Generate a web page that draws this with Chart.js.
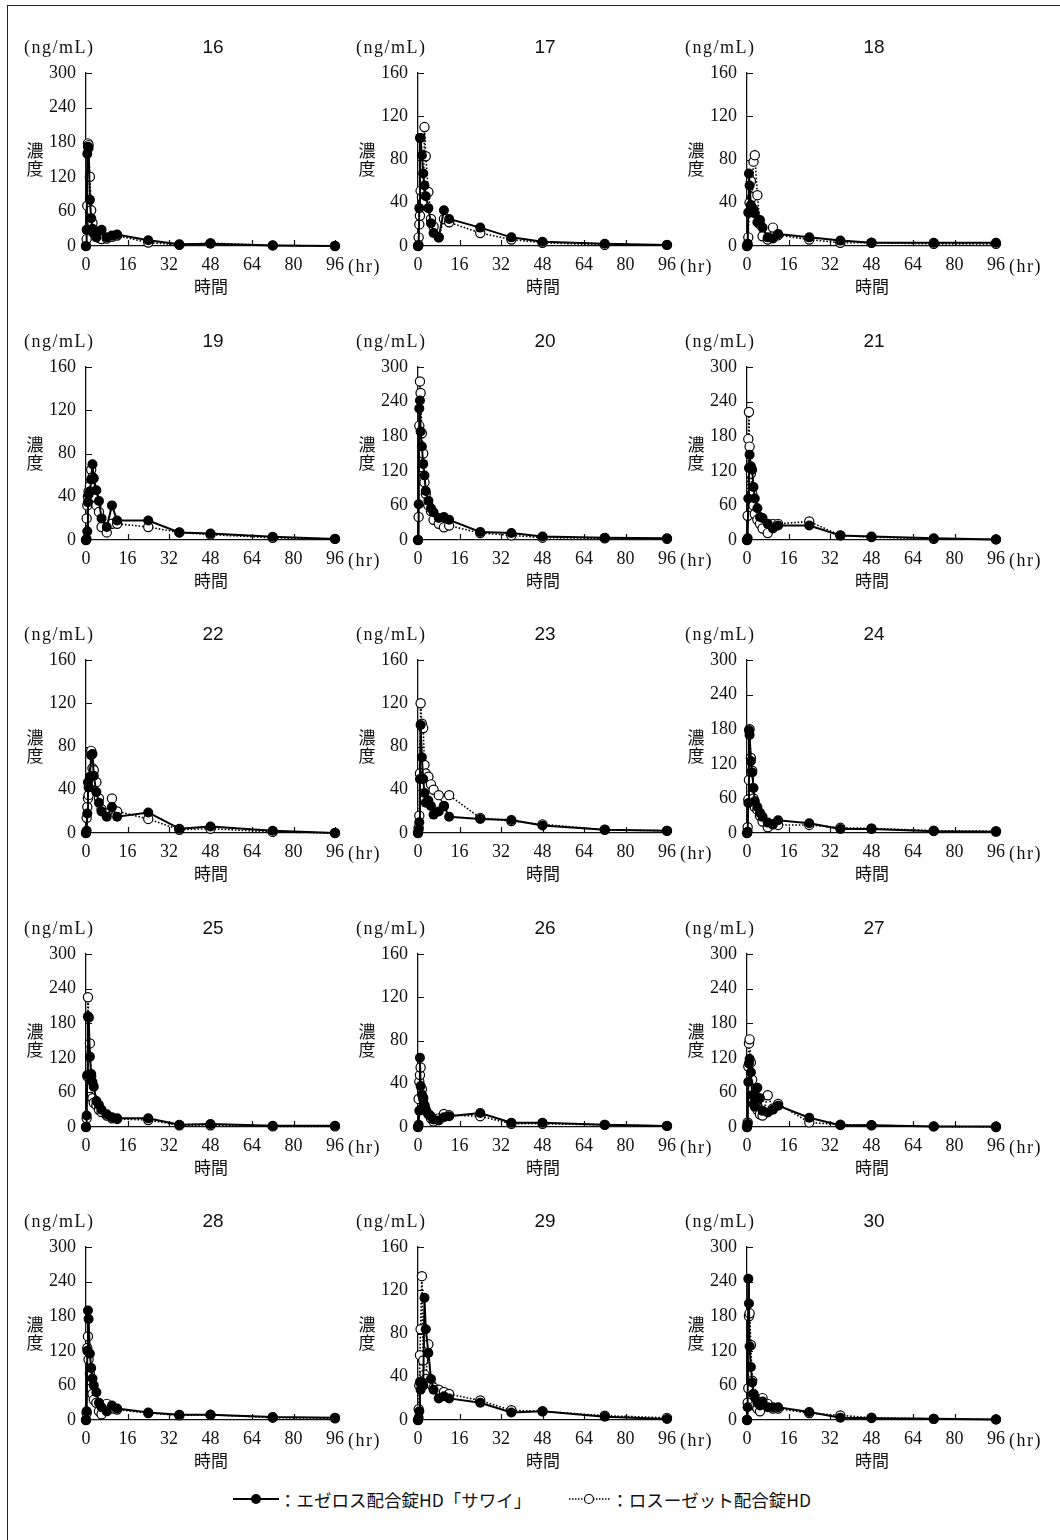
<!DOCTYPE html>
<html lang="ja">
<head>
<meta charset="utf-8">
<title>血漿中濃度推移（被験者16〜30）</title>
<script src="https://cdn.jsdelivr.net/npm/chart.js@4.4.1/dist/chart.umd.min.js"></script>
<style>
  html, body { margin: 0; padding: 0; background: #fff; }
  #page { position: relative; width: 1060px; height: 1540px; background: #fff; overflow: hidden; }
  #frameTop { position: absolute; left: 7px; top: 5px; width: 1053px; height: 0; border-top: 1.3px solid #222; }
  #frameLeft { position: absolute; left: 7px; top: 5px; width: 0; height: 1535px; border-left: 1.3px solid #222; }
  .panel { position: absolute; }
  .panel canvas { position: absolute; left: 0; top: 0; }
  .txt { position: absolute; color: #111; white-space: nowrap; transform: translate(-50%, -50%); }
  .unit { font: 18px "Liberation Serif", "Times New Roman", serif; letter-spacing: 1.5px; transform: translate(0, -50%); }
  .num { font: 19px "Liberation Sans", Arial, sans-serif; }
  .ylab { font: 17px "Noto Sans CJK JP", sans-serif; line-height: 18px; text-align: center; }
  .xlab { font: 17px "Noto Sans CJK JP", sans-serif; }
  .hr { font: 18px "Liberation Serif", "Times New Roman", serif; letter-spacing: 1.5px; transform: translate(0, -50%); }
  #legend { position: absolute; left: 233px; top: 1488px; height: 22px; display: flex; align-items: center;
            font: 17.5px "Noto Sans CJK JP", sans-serif; color: #111; white-space: nowrap; }
</style>
</head>
<body>
<div id="page">
  <div id="frameTop"></div>
  <div id="frameLeft"></div>
  <div id="legend">
    <svg width="46" height="22"><line x1="0" y1="11" x2="46" y2="11" stroke="#000" stroke-width="2.2"/><circle cx="23" cy="11" r="5" fill="#000"/></svg>
    <span>：エゼロス配合錠HD「サワイ」</span>
    <span style="display:inline-block;width:38px"></span>
    <svg width="42" height="22"><line x1="0" y1="11" x2="42" y2="11" stroke="#000" stroke-width="1.5" stroke-dasharray="1.5 1.5"/><circle cx="20" cy="11" r="4.5" fill="#fff" stroke="#000" stroke-width="1.2"/></svg>
    <span>：ロスーゼット配合錠HD</span>
  </div>
</div>

<script>
// Sampling times (hr)
const times = [0, 0.25, 0.5, 0.75, 1, 1.5, 2, 2.5, 3, 4, 5, 6, 8, 10, 12, 24, 36, 48, 72, 96];

// Tick values
const xTicks = [0, 16, 32, 48, 64, 80, 96];
const yTicks300 = [0, 60, 120, 180, 240, 300];
const yTicks160 = [0, 40, 80, 120, 160];

// Subject numbers and their y-axis range
const subjects = ['16', '17', '18', '19', '20', '21', '22', '23', '24', '25', '26', '27', '28', '29', '30'];
const yRanges = [300, 160, 160, 160, 300, 300, 160, 160, 300, 300, 160, 300, 300, 160, 300];

// Plasma concentration (ng/mL): エゼロス配合錠HD「サワイ」
const sawai16 = [0, 28, 160, 172, 170, 80, 48, 30, 22, 15, 25, 28, 15, 18, 20, 10, 3, 4, 1, 0];
const sawai17 = [0, 1, 35, 100, 100, 84, 67, 56, 46, 35, 21, 12, 8, 33, 25, 17, 8, 4, 2, 1];
const sawai18 = [0, 2, 31, 67, 56, 38, 35, 34, 30, 22, 24, 17, 8, 7, 11, 8, 5, 3, 3, 3];
const sawai19 = [0, 1, 8, 35, 42, 45, 56, 70, 57, 46, 36, 20, 12, 32, 18, 18, 7, 6, 3, 1];
const sawai20 = [0, 62, 228, 242, 188, 162, 132, 112, 85, 68, 55, 48, 38, 40, 35, 14, 12, 6, 4, 3];
const sawai21 = [0, 3, 72, 125, 148, 128, 122, 92, 72, 55, 40, 38, 28, 20, 25, 25, 8, 6, 3, 1];
const sawai22 = [0, 2, 18, 47, 42, 52, 72, 73, 53, 38, 28, 20, 15, 24, 15, 19, 4, 6, 2, 0];
const sawai23 = [0, 3, 10, 50, 100, 70, 50, 37, 28, 30, 25, 17, 20, 25, 15, 13, 12, 7, 3, 2];
const sawai24 = [0, 2, 52, 178, 170, 125, 105, 78, 55, 45, 35, 28, 18, 15, 22, 17, 7, 7, 3, 2];
const sawai25 = [0, 20, 90, 192, 190, 122, 92, 78, 70, 45, 38, 30, 22, 17, 15, 15, 4, 5, 2, 2];
const sawai26 = [0, 2, 15, 64, 38, 30, 26, 20, 15, 12, 10, 7, 6, 9, 10, 13, 4, 4, 2, 1];
const sawai27 = [0, 5, 78, 110, 118, 95, 55, 40, 35, 68, 50, 28, 25, 30, 37, 16, 3, 3, 1, 1];
const sawai28 = [0, 15, 120, 190, 175, 115, 90, 72, 60, 48, 30, 22, 15, 25, 20, 13, 9, 9, 5, 4];
const sawai29 = [0, 2, 8, 35, 28, 35, 32, 113, 84, 62, 38, 28, 20, 22, 20, 16, 7, 8, 3, 1];
const sawai30 = [0, 22, 245, 202, 128, 92, 65, 45, 40, 30, 25, 32, 22, 22, 22, 14, 4, 3, 2, 1];

// Plasma concentration (ng/mL): ロスーゼット配合錠HD
const rosuzet16 = [0, 12, 70, 178, 175, 120, 62, 40, 25, 18, 14, 12, 13, 16, 18, 6, 2, 5, 1, 0];
const rosuzet17 = [0, 8, 20, 28, 51, 45, 40, 110, 83, 50, 25, 18, 8, 25, 22, 12, 6, 3, 1, 1];
const rosuzet18 = [0, 1, 8, 31, 40, 60, 45, 78, 84, 47, 20, 9, 6, 17, 10, 6, 3, 3, 2, 2];
const rosuzet19 = [0, 20, 32, 40, 45, 50, 65, 58, 40, 32, 26, 12, 7, 15, 15, 12, 7, 5, 2, 1];
const rosuzet20 = [0, 40, 198, 275, 255, 185, 150, 100, 80, 60, 50, 35, 28, 22, 25, 12, 8, 4, 3, 2];
const rosuzet21 = [0, 42, 175, 222, 162, 115, 80, 60, 45, 35, 28, 20, 12, 28, 28, 32, 8, 5, 2, 1];
const rosuzet22 = [0, 14, 24, 32, 35, 45, 76, 60, 58, 47, 32, 22, 18, 32, 20, 13, 3, 4, 1, 0];
const rosuzet23 = [0, 5, 16, 55, 120, 101, 97, 63, 55, 52, 45, 40, 35, 25, 35, 14, 11, 8, 3, 2];
const rosuzet24 = [0, 10, 58, 92, 180, 130, 108, 60, 45, 40, 30, 20, 10, 15, 14, 14, 9, 8, 4, 3];
const rosuzet25 = [0, 15, 88, 225, 190, 145, 88, 50, 42, 38, 30, 26, 20, 15, 14, 12, 3, 3, 1, 1];
const rosuzet26 = [0, 26, 42, 48, 55, 35, 27, 20, 16, 12, 8, 5, 8, 12, 11, 10, 3, 3, 2, 1];
const rosuzet27 = [0, 8, 105, 145, 152, 112, 82, 55, 40, 30, 22, 20, 55, 32, 40, 8, 4, 3, 1, 0];
const rosuzet28 = [0, 12, 125, 145, 105, 80, 55, 45, 35, 30, 15, 10, 28, 20, 18, 12, 8, 9, 4, 3];
const rosuzet29 = [0, 10, 32, 60, 84, 133, 55, 42, 38, 70, 33, 30, 28, 26, 24, 18, 9, 8, 4, 2];
const rosuzet30 = [0, 30, 55, 180, 185, 130, 68, 45, 25, 20, 15, 38, 28, 20, 20, 12, 8, 4, 2, 1];

const sawaiSeries = [sawai16, sawai17, sawai18, sawai19, sawai20, sawai21, sawai22, sawai23,
                     sawai24, sawai25, sawai26, sawai27, sawai28, sawai29, sawai30];
const rosuzetSeries = [rosuzet16, rosuzet17, rosuzet18, rosuzet19, rosuzet20, rosuzet21, rosuzet22, rosuzet23,
                       rosuzet24, rosuzet25, rosuzet26, rosuzet27, rosuzet28, rosuzet29, rosuzet30];

// Panel grid geometry
const axisLeft = [86, 418, 747];     // x of each column's y-axis
const firstTop = 73;                 // top of the first row's plot area
const rowStep = 293.5;
const plotW = 249, plotH = 173;
const padTop = 40, padRight = 46, yAxisW = 80, xAxisH = 50;

const serif = '"Liberation Serif", "Times New Roman", serif';

// Short inward tick marks on both axes
const inwardTicks = {
  id: 'inwardTicks',
  beforeDatasetsDraw(chart) {
    const { ctx, chartArea, scales } = chart;
    const { x, y } = scales;
    ctx.save();
    ctx.strokeStyle = '#111';
    ctx.lineWidth = 1.2;
    ctx.beginPath();
    y.ticks.forEach(t => {
      if (t.value === 0) return;
      const py = Math.round(y.getPixelForValue(t.value)) + 0.5;
      ctx.moveTo(chartArea.left, py);
      ctx.lineTo(chartArea.left + 6, py);
    });
    x.ticks.forEach(t => {
      if (t.value === 0) return;
      const px = Math.round(x.getPixelForValue(t.value)) + 0.5;
      ctx.moveTo(px, chartArea.bottom);
      ctx.lineTo(px, chartArea.bottom - 6);
    });
    ctx.stroke();
    ctx.restore();
  }
};

function addText(page, cls, text, left, top, html) {
  const d = document.createElement('div');
  d.className = 'txt ' + cls;
  if (html) d.innerHTML = text; else d.textContent = text;
  d.style.left = left + 'px';
  d.style.top = top + 'px';
  page.appendChild(d);
  return d;
}

const page = document.getElementById('page');

subjects.forEach((subj, i) => {
  const col = i % 3, row = Math.floor(i / 3);
  const ax = axisLeft[col];
  const top = firstTop + rowStep * row;

  const box = document.createElement('div');
  box.className = 'panel';
  const W = yAxisW + plotW + padRight, H = padTop + plotH + xAxisH;
  box.style.left = (ax - yAxisW) + 'px';
  box.style.top = (top - padTop) + 'px';
  box.style.width = W + 'px';
  box.style.height = H + 'px';
  const cv = document.createElement('canvas');
  cv.width = W; cv.height = H;
  cv.style.width = W + 'px'; cv.style.height = H + 'px';
  box.appendChild(cv);
  page.appendChild(box);

  const yTicks = yRanges[i] === 300 ? yTicks300 : yTicks160;

  new Chart(cv, {
    type: 'line',
    data: {
      datasets: [
        {
          label: 'エゼロス配合錠HD「サワイ」',
          data: times.map((t, k) => ({ x: t, y: sawaiSeries[i][k] })),
          borderColor: '#000',
          borderWidth: 2,
          backgroundColor: '#000',
          pointBackgroundColor: '#000',
          pointBorderColor: '#000',
          pointBorderWidth: 0,
          pointRadius: 5,
          tension: 0,
          clip: false
        },
        {
          label: 'ロスーゼット配合錠HD',
          data: times.map((t, k) => ({ x: t, y: rosuzetSeries[i][k] })),
          borderColor: '#000',
          borderWidth: 1.6,
          borderDash: [1.6, 1.8],
          backgroundColor: '#fff',
          pointBackgroundColor: '#fff',
          pointBorderColor: '#000',
          pointBorderWidth: 1.2,
          pointRadius: 4.6,
          tension: 0,
          clip: false
        }
      ]
    },
    options: {
      responsive: false,
      animation: false,
      devicePixelRatio: 1,
      layout: { padding: { top: padTop, right: padRight, left: 0, bottom: 0 } },
      plugins: { legend: { display: false }, tooltip: { enabled: false }, title: { display: false } },
      scales: {
        x: {
          type: 'linear',
          min: 0, max: 96,
          afterBuildTicks: s => { s.ticks = xTicks.map(v => ({ value: v })); },
          afterFit: s => { s.height = xAxisH; },
          ticks: { autoSkip: false, maxRotation: 0, padding: 8, color: '#111', font: { family: serif, size: 18 } },
          grid: { display: false, drawTicks: false },
          border: { display: true, color: '#111', width: 1.3 }
        },
        y: {
          type: 'linear',
          min: 0, max: yRanges[i],
          afterBuildTicks: s => { s.ticks = yTicks.map(v => ({ value: v })); },
          afterFit: s => { s.width = yAxisW; },
          ticks: { autoSkip: false, padding: 10, color: '#111', font: { family: serif, size: 18 } },
          grid: { display: false, drawTicks: false },
          border: { display: true, color: '#111', width: 1.3 }
        }
      }
    },
    plugins: [inwardTicks]
  });

  // Panel labels
  addText(page, 'unit', '(ng/mL)', ax - 62, top - 26);
  addText(page, 'num', subj, ax + 127, top - 26);
  addText(page, 'ylab', '濃<br>度', ax - 51, top + 86, true);
  addText(page, 'xlab', '時間', ax + 125, top + 212);
  addText(page, 'hr', '(hr)', ax + 262, top + 193);
});
</script>
</body>
</html>
